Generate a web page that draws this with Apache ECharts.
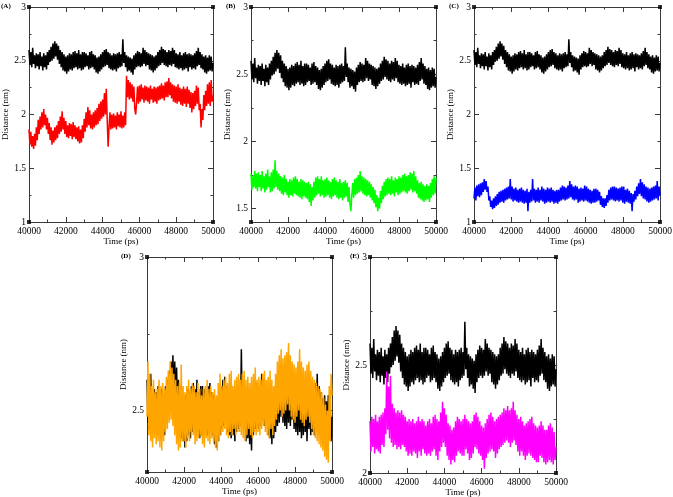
<!DOCTYPE html>
<html lang="en">
  <head>
    <meta charset="UTF-8" />
    <title>Distance vs time</title>
    <script src="https://cdn.jsdelivr.net/npm/echarts@6.0.0/dist/echarts.min.js"></script>
  </head>
  <body style="margin: 0; background: #fff">
    <div id="main" style="width: 673px; height: 497px"></div>
    <script type="text/javascript">
      // time axis sampled every 50 ps from 40000 to 50000 (one row = 500 ps)
      const tStart = 40000;
      const tStep = 50;

      // reference trace (black), shared by every panel
      const black = [
        2.60, 2.46, 2.58, 2.44, 2.62, 2.47, 2.55, 2.43, 2.57, 2.45,
        2.56, 2.42, 2.58, 2.45, 2.54, 2.41, 2.57, 2.44, 2.55, 2.42,
        2.58, 2.46, 2.60, 2.49, 2.63, 2.50, 2.66, 2.52, 2.68, 2.54,
        2.66, 2.51, 2.64, 2.47, 2.60, 2.44, 2.58, 2.41, 2.56, 2.40,
        2.54, 2.38, 2.55, 2.40, 2.57, 2.42, 2.56, 2.41, 2.58, 2.43,
        2.59, 2.44, 2.57, 2.42, 2.60, 2.43, 2.56, 2.41, 2.58, 2.42,
        2.58, 2.44, 2.57, 2.45, 2.55, 2.42, 2.58, 2.43, 2.59, 2.44,
        2.56, 2.42, 2.55, 2.39, 2.53, 2.38, 2.54, 2.40, 2.56, 2.42,
        2.58, 2.44, 2.60, 2.45, 2.61, 2.46, 2.58, 2.43, 2.57, 2.42,
        2.55, 2.41, 2.57, 2.42, 2.56, 2.40, 2.57, 2.43, 2.58, 2.44,
        2.56, 2.45, 2.70, 2.48, 2.58, 2.44, 2.55, 2.40, 2.54, 2.41,
        2.53, 2.39, 2.52, 2.37, 2.55, 2.42, 2.57, 2.44, 2.59, 2.45,
        2.58, 2.44, 2.57, 2.45, 2.62, 2.47, 2.60, 2.45, 2.58, 2.46,
        2.57, 2.42, 2.56, 2.41, 2.55, 2.39, 2.54, 2.41, 2.55, 2.43,
        2.58, 2.45, 2.60, 2.46, 2.63, 2.48, 2.61, 2.46, 2.60, 2.45,
        2.58, 2.44, 2.60, 2.46, 2.59, 2.45, 2.62, 2.47, 2.60, 2.44,
        2.57, 2.43, 2.56, 2.42, 2.58, 2.43, 2.55, 2.41, 2.57, 2.42,
        2.58, 2.43, 2.56, 2.40, 2.57, 2.44, 2.56, 2.42, 2.55, 2.43,
        2.57, 2.42, 2.59, 2.45, 2.62, 2.46, 2.58, 2.43, 2.56, 2.42,
        2.54, 2.39, 2.55, 2.38, 2.53, 2.40, 2.55, 2.41, 2.54, 2.40,
        2.48
      ];
      const red = [
        1.86, 1.72, 1.84, 1.70, 1.80, 1.68, 1.82, 1.71, 1.88, 1.76,
        1.95, 1.82, 1.98, 1.86, 2.02, 1.88, 2.05, 1.90, 2.00, 1.86,
        1.97, 1.82, 1.92, 1.76, 1.88, 1.72, 1.85, 1.74, 1.88, 1.76,
        1.90, 1.78, 1.94, 1.82, 1.98, 1.84, 2.03, 1.86, 1.97, 1.82,
        1.94, 1.79, 1.90, 1.78, 1.92, 1.80, 1.91, 1.77, 1.93, 1.79,
        1.90, 1.77, 1.88, 1.75, 1.89, 1.73, 1.86, 1.74, 1.90, 1.78,
        1.96, 1.84, 2.02, 1.88, 2.07, 1.90, 2.04, 1.87, 2.00, 1.86,
        2.02, 1.88, 2.04, 1.90, 2.06, 1.91, 2.10, 1.94, 2.12, 1.96,
        2.14, 1.98, 2.20, 2.00, 2.24, 1.95, 1.70, 1.88, 2.02, 1.86,
        2.00, 1.87, 2.01, 1.88, 1.99, 1.86, 2.02, 1.89, 2.00, 1.88,
        2.03, 1.87, 1.99, 1.88, 2.02, 1.90, 2.36, 2.16, 2.32, 2.14,
        2.30, 2.15, 2.28, 2.12, 2.26, 2.05, 2.00, 2.12, 2.26, 2.10,
        2.27, 2.12, 2.28, 2.14, 2.25, 2.11, 2.27, 2.13, 2.26, 2.12,
        2.25, 2.10, 2.27, 2.14, 2.24, 2.11, 2.26, 2.12, 2.25, 2.10,
        2.26, 2.13, 2.27, 2.14, 2.29, 2.15, 2.27, 2.13, 2.30, 2.16,
        2.31, 2.16, 2.34, 2.18, 2.30, 2.15, 2.28, 2.12, 2.27, 2.11,
        2.26, 2.10, 2.28, 2.12, 2.25, 2.09, 2.24, 2.08, 2.26, 2.10,
        2.24, 2.07, 2.26, 2.10, 2.23, 2.06, 2.21, 2.02, 2.20, 2.05,
        2.22, 2.08, 2.27, 2.10, 2.25, 2.04, 2.10, 1.88, 2.05, 1.95,
        2.18, 2.04, 2.22, 2.08, 2.28, 2.10, 2.30, 2.08, 2.32, 2.12,
        2.18
      ];
      const green = [
        1.76, 1.64, 1.74, 1.66, 1.78, 1.65, 1.76, 1.63, 1.77, 1.66,
        1.75, 1.63, 1.78, 1.65, 1.74, 1.62, 1.76, 1.64, 1.79, 1.66,
        1.74, 1.62, 1.77, 1.63, 1.79, 1.65, 1.86, 1.66, 1.78, 1.64,
        1.76, 1.63, 1.74, 1.61, 1.73, 1.60, 1.75, 1.62, 1.72, 1.60,
        1.70, 1.58, 1.72, 1.60, 1.71, 1.59, 1.73, 1.61, 1.74, 1.60,
        1.72, 1.59, 1.70, 1.58, 1.72, 1.57, 1.71, 1.59, 1.70, 1.58,
        1.69, 1.57, 1.70, 1.55, 1.68, 1.52, 1.66, 1.56, 1.70, 1.58,
        1.73, 1.60, 1.74, 1.61, 1.72, 1.59, 1.74, 1.60, 1.71, 1.58,
        1.72, 1.59, 1.73, 1.60, 1.71, 1.58, 1.70, 1.57, 1.72, 1.59,
        1.73, 1.60, 1.71, 1.58, 1.70, 1.57, 1.72, 1.58, 1.69, 1.56,
        1.70, 1.58, 1.71, 1.59, 1.69, 1.55, 1.66, 1.53, 1.48, 1.60,
        1.69, 1.58, 1.72, 1.60, 1.73, 1.61, 1.75, 1.62, 1.78, 1.63,
        1.74, 1.61, 1.73, 1.60, 1.72, 1.59, 1.71, 1.60, 1.70, 1.58,
        1.68, 1.56, 1.66, 1.54, 1.64, 1.51, 1.60, 1.48, 1.58, 1.50,
        1.63, 1.54, 1.67, 1.57, 1.70, 1.59, 1.72, 1.60, 1.73, 1.61,
        1.72, 1.60, 1.74, 1.61, 1.71, 1.59, 1.73, 1.62, 1.72, 1.60,
        1.74, 1.61, 1.73, 1.62, 1.75, 1.63, 1.76, 1.62, 1.74, 1.61,
        1.75, 1.63, 1.77, 1.64, 1.76, 1.62, 1.78, 1.63, 1.74, 1.61,
        1.71, 1.58, 1.69, 1.57, 1.70, 1.56, 1.68, 1.55, 1.67, 1.56,
        1.68, 1.57, 1.67, 1.55, 1.69, 1.58, 1.72, 1.60, 1.74, 1.61,
        1.73
      ];
      const blue = [
        1.22, 1.32, 1.20, 1.34, 1.24, 1.35, 1.23, 1.36, 1.25, 1.37,
        1.28, 1.40, 1.30, 1.38, 1.28, 1.33, 1.20, 1.24, 1.14, 1.20,
        1.12, 1.22, 1.13, 1.24, 1.15, 1.26, 1.16, 1.28, 1.18, 1.29,
        1.19, 1.30, 1.18, 1.31, 1.20, 1.32, 1.21, 1.33, 1.22, 1.40,
        1.21, 1.33, 1.19, 1.31, 1.20, 1.32, 1.19, 1.30, 1.18, 1.31,
        1.19, 1.32, 1.18, 1.30, 1.17, 1.29, 1.18, 1.31, 1.10, 1.28,
        1.18, 1.30, 1.19, 1.40, 1.20, 1.31, 1.18, 1.30, 1.19, 1.32,
        1.18, 1.30, 1.20, 1.33, 1.19, 1.31, 1.17, 1.30, 1.18, 1.32,
        1.19, 1.31, 1.18, 1.32, 1.19, 1.30, 1.17, 1.29, 1.18, 1.30,
        1.17, 1.30, 1.19, 1.32, 1.20, 1.34, 1.21, 1.33, 1.20, 1.32,
        1.21, 1.34, 1.22, 1.38, 1.23, 1.35, 1.21, 1.33, 1.20, 1.34,
        1.21, 1.33, 1.18, 1.31, 1.19, 1.32, 1.20, 1.31, 1.19, 1.34,
        1.20, 1.33, 1.19, 1.31, 1.18, 1.30, 1.17, 1.29, 1.18, 1.31,
        1.18, 1.31, 1.19, 1.30, 1.20, 1.28, 1.16, 1.24, 1.14, 1.22,
        1.13, 1.22, 1.15, 1.25, 1.18, 1.30, 1.20, 1.32, 1.21, 1.33,
        1.20, 1.33, 1.19, 1.32, 1.20, 1.31, 1.19, 1.32, 1.20, 1.33,
        1.18, 1.33, 1.17, 1.30, 1.19, 1.31, 1.18, 1.29, 1.17, 1.27,
        1.10, 1.26, 1.19, 1.29, 1.21, 1.33, 1.24, 1.36, 1.26, 1.40,
        1.24, 1.37, 1.22, 1.35, 1.21, 1.33, 1.19, 1.32, 1.18, 1.31,
        1.19, 1.32, 1.20, 1.33, 1.21, 1.34, 1.22, 1.38, 1.20, 1.33,
        1.25
      ];
      const orange = [
        2.48, 2.66, 2.42, 2.62, 2.40, 2.58, 2.38, 2.60, 2.41, 2.56,
        2.39, 2.57, 2.40, 2.60, 2.38, 2.58, 2.37, 2.59, 2.40, 2.57,
        2.43, 2.61, 2.44, 2.63, 2.46, 2.66, 2.47, 2.64, 2.45, 2.62,
        2.42, 2.60, 2.39, 2.58, 2.37, 2.59, 2.38, 2.65, 2.40, 2.58,
        2.40, 2.56, 2.38, 2.58, 2.41, 2.60, 2.40, 2.57, 2.43, 2.59,
        2.42, 2.58, 2.39, 2.56, 2.40, 2.59, 2.41, 2.57, 2.42, 2.55,
        2.39, 2.57, 2.38, 2.58, 2.41, 2.60, 2.40, 2.57, 2.39, 2.58,
        2.41, 2.56, 2.40, 2.57, 2.38, 2.55, 2.37, 2.59, 2.40, 2.62,
        2.42, 2.58, 2.43, 2.60, 2.44, 2.61, 2.42, 2.59, 2.41, 2.62,
        2.43, 2.63, 2.42, 2.58, 2.44, 2.60, 2.42, 2.61, 2.43, 2.62,
        2.43, 2.60, 2.42, 2.62, 2.41, 2.63, 2.40, 2.60, 2.42, 2.61,
        2.44, 2.59, 2.42, 2.61, 2.41, 2.62, 2.43, 2.64, 2.42, 2.60,
        2.43, 2.61, 2.42, 2.60, 2.44, 2.62, 2.45, 2.63, 2.43, 2.60,
        2.42, 2.61, 2.41, 2.63, 2.44, 2.60, 2.42, 2.58, 2.45, 2.62,
        2.47, 2.66, 2.49, 2.68, 2.50, 2.70, 2.48, 2.67, 2.49, 2.68,
        2.50, 2.69, 2.52, 2.72, 2.50, 2.68, 2.48, 2.66, 2.47, 2.65,
        2.46, 2.64, 2.48, 2.66, 2.50, 2.70, 2.47, 2.66, 2.46, 2.64,
        2.45, 2.63, 2.47, 2.65, 2.48, 2.66, 2.46, 2.63, 2.44, 2.61,
        2.42, 2.60, 2.41, 2.59, 2.40, 2.58, 2.39, 2.57, 2.38, 2.56,
        2.37, 2.54, 2.35, 2.52, 2.34, 2.50, 2.33, 2.58, 2.40, 2.62,
        2.55
      ];
      const magenta = [
        2.24, 2.10, 2.26, 2.12, 2.25, 2.09, 2.27, 2.11, 2.24, 2.10,
        2.26, 2.09, 2.27, 2.13, 2.28, 2.12, 2.30, 2.18, 2.47, 2.20,
        2.40, 2.16, 2.45, 2.14, 2.32, 2.12, 2.30, 2.13, 2.28, 2.11,
        2.29, 2.12, 2.28, 2.11, 2.29, 2.13, 2.27, 2.12, 2.26, 2.10,
        2.24, 2.08, 2.25, 2.09, 2.24, 2.08, 2.25, 2.10, 2.23, 2.09,
        2.24, 2.07, 2.26, 2.10, 2.24, 2.08, 2.25, 2.11, 2.24, 2.09,
        2.22, 2.08, 2.24, 2.09, 2.25, 2.08, 2.23, 2.10, 2.26, 2.11,
        2.27, 2.08, 2.25, 2.06, 2.24, 2.10, 2.28, 2.12, 2.33, 2.14,
        2.30, 2.12, 2.27, 2.08, 2.23, 2.06, 2.22, 2.04, 2.20, 2.06,
        2.21, 2.05, 2.24, 2.08, 2.26, 2.10, 2.25, 2.09, 2.24, 2.08,
        2.25, 2.08, 2.27, 2.11, 2.25, 2.09, 2.24, 2.06, 2.23, 2.07,
        2.24, 2.09, 2.27, 2.12, 2.28, 2.11, 2.26, 2.09, 2.24, 2.08,
        2.22, 2.06, 2.21, 2.02, 2.23, 2.07, 2.25, 2.09, 2.27, 2.10,
        2.28, 2.11, 2.26, 2.10, 2.24, 2.07, 2.25, 2.09, 2.26, 2.11,
        2.27, 2.12, 2.28, 2.13, 2.30, 2.14, 2.29, 2.15, 2.31, 2.14,
        2.29, 2.12, 2.30, 2.14, 2.33, 2.15, 2.29, 2.13, 2.27, 2.10,
        2.25, 2.08, 2.26, 2.10, 2.24, 2.08, 2.22, 2.06, 2.23, 2.08,
        2.24, 2.09, 2.25, 2.08, 2.26, 2.07, 2.23, 2.06, 2.22, 2.05,
        2.21, 2.05, 2.22, 2.08, 2.24, 2.07, 2.22, 2.05, 2.20, 2.04,
        2.20, 2.05, 2.22, 2.06, 2.23, 2.05, 2.21, 2.04, 2.19, 2.06,
        2.12
      ];

      const xTicks = [40000, 50000, 2000];

      const time = black.map((_, k) => tStart + k * tStep);

      const font = "Liberation Serif";
      const frame = { color: "#3a3a3a", width: 1 };

      const panels = [
        { label: "(A)", lx: 1, ly: 3, grid: { left: 29, top: 7, width: 184, height: 215 },
          yMin: 1, yMax: 3, major: [1, 1.5, 2, 2.5, 3], minor: [1.25, 1.75, 2.25, 2.75],
          lines: [[black, "#000000"], [red, "#ff0000"]] },
        { label: "(B)", lx: 226, ly: 3, grid: { left: 251, top: 7, width: 185, height: 215 },
          yMin: 1.4, yMax: 3, major: [1.5, 2, 2.5, 3], minor: [1.75, 2.25, 2.75],
          lines: [[black, "#000000"], [green, "#00ff00"]] },
        { label: "(C)", lx: 449, ly: 3, grid: { left: 474, top: 7, width: 186, height: 215 },
          yMin: 1, yMax: 3, major: [1, 1.5, 2, 2.5, 3], minor: [1.25, 1.75, 2.25, 2.75],
          lines: [[black, "#000000"], [blue, "#0000ff"]] },
        { label: "(D)", lx: 121, ly: 253, grid: { left: 147, top: 257, width: 185, height: 215 },
          yMin: 2.3, yMax: 3, major: [2.5, 3], minor: [2.75],
          lines: [[black, "#000000"], [orange, "#ffa500"]] },
        { label: "(E)", lx: 350, ly: 253, grid: { left: 370, top: 257, width: 186, height: 216 },
          yMin: 2, yMax: 3, major: [2, 2.5, 3], minor: [2.25, 2.75],
          lines: [[black, "#000000"], [magenta, "#ff00ff"]] },
      ];

      const option = {
        animation: false,
        backgroundColor: "#ffffff",
        title: [], grid: [], xAxis: [], yAxis: [], series: [],
      };

      panels.forEach((p, i) => {
        option.title.push({
          text: p.label, left: p.lx, top: p.ly, padding: 0,
          textStyle: { fontFamily: font, fontSize: 7, fontWeight: "bold", color: "#000" },
        });
        option.grid.push(Object.assign({ outerBoundsMode: "none", containLabel: false }, p.grid));

        const xBase = {
          gridIndex: i, type: "value", min: xTicks[0], max: xTicks[1], interval: xTicks[2],
          axisLine: { show: true, onZero: false, lineStyle: frame },
          axisTick: { show: true, inside: true, length: 5, lineStyle: frame },
          minorTick: { show: true, splitNumber: 2, length: 2.5, lineStyle: frame },
          splitLine: { show: false },
        };
        option.xAxis.push(Object.assign({}, xBase, {
          position: "bottom",
          axisLabel: {
            color: "#000", fontFamily: font, fontSize: 9.5, margin: 4,
            showMinLabel: true, showMaxLabel: true, formatter: (v) => String(v),
          },
          name: "Time (ps)", nameLocation: "middle", nameGap: 14,
          nameTextStyle: { color: "#000", fontFamily: font, fontSize: 9 },
        }));
        option.xAxis.push(Object.assign({}, xBase, { position: "top", axisLabel: { show: false } }));

        const yAxisBase = { gridIndex: i, type: "value", min: p.yMin, max: p.yMax, splitLine: { show: false } };
        const yStart = option.yAxis.length;
        ["left", "right"].forEach((side) => {
          option.yAxis.push(Object.assign({}, yAxisBase, {
            position: side,
            axisLine: { show: true, onZero: false, lineStyle: frame },
            axisTick: { show: true, inside: true, length: 5, lineStyle: frame, customValues: p.major },
            axisLabel: side === "left"
              ? { color: "#000", fontFamily: font, fontSize: 9.5, margin: 3, customValues: p.major }
              : { show: false },
            name: side === "left" ? "Distance (nm)" : "",
            nameLocation: "middle", nameGap: 16, nameRotate: 90,
            nameTextStyle: { color: "#000", fontFamily: font, fontSize: 9 },
          }));
          option.yAxis.push(Object.assign({}, yAxisBase, {
            position: side,
            axisLine: { show: false },
            axisTick: { show: true, inside: true, length: 2.5, lineStyle: frame, customValues: p.minor },
            axisLabel: { show: false },
          }));
        });

        p.lines.forEach(([vals, color]) => {
          option.series.push({
            type: "line", xAxisIndex: i * 2, yAxisIndex: yStart,
            data: time.map((t, k) => [t, vals[k]]),
            showSymbol: false, symbol: "none",
            lineStyle: { color: color, width: 1.5, join: "bevel" },
            itemStyle: { color: color },
          });
        });

        // small square markers at the frame corners
        option.series.push({
          type: "scatter", xAxisIndex: i * 2, yAxisIndex: yStart,
          data: [[xTicks[0], p.yMin], [xTicks[0], p.yMax], [xTicks[1], p.yMin], [xTicks[1], p.yMax]],
          symbol: "rect", symbolSize: 4, clip: false, z: 5,
          itemStyle: { color: "#000" },
        });
      });

      let myChart = echarts.init(document.getElementById("main"));
      myChart.setOption(option);
    </script>
  </body>
</html>
